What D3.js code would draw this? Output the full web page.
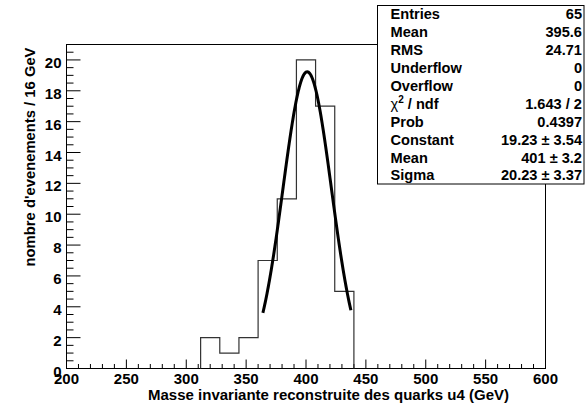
<!DOCTYPE html>
<html><head><meta charset="utf-8">
<script src="https://cdn.jsdelivr.net/npm/d3@7"></script>
<style>body{margin:0;background:#fff}svg{display:block}text{font-family:"Liberation Sans",Arial,sans-serif;font-weight:bold;fill:#000}</style>
</head><body>
<script>
const binEdges = [312, 328, 344, 360, 376, 392, 408, 424, 440];
const binCounts = [2, 1, 2, 7, 11, 20, 17, 5];
const fitParams = {constant: 19.23, mean: 401, sigma: 20.23};
const fitRange = [364, 437.5];
const xTicks = [200, 250, 300, 350, 400, 450, 500, 550, 600];
const yTicks = [0, 2, 4, 6, 8, 10, 12, 14, 16, 18, 20];
const statLabels = ["Entries","Mean","RMS","Underflow","Overflow","χ2 / ndf","Prob","Constant","Mean","Sigma"];
const statValues = ["65","395.6","24.71","0","0","1.643 / 2","0.4397","19.23 ± 3.54","401 ± 3.2","20.23 ± 3.37"];

const W=587,H=408;
const L=66.5,R=545.5,T=44.5,B=368.5;
const svg=d3.select("body").append("svg").attr("width",W).attr("height",H);
const x=d3.scaleLinear().domain([200,600]).range([L,R]);
const y=d3.scaleLinear().domain([0,21]).range([B,T]);

// frame
svg.append("rect").attr("x",L).attr("y",T).attr("width",R-L).attr("height",B-T).attr("fill","none").attr("stroke","#000").attr("stroke-width",1);

// x ticks
const xminor=d3.range(200,601,10);
svg.append("g").selectAll("line").data(xminor).join("line")
 .attr("x1",d=>x(d)).attr("x2",d=>x(d)).attr("y1",B).attr("y2",d=>B-(d%50===0?9:4.5))
 .attr("stroke","#000");
svg.append("g").selectAll("text").data(xTicks).join("text")
 .attr("x",d=>x(d)).attr("y",384).attr("text-anchor","middle").attr("font-size",15).text(d=>d);
// y ticks
const yminor=d3.range(0,21.01,0.5);
svg.append("g").selectAll("line").data(yminor).join("line")
 .attr("x1",L).attr("x2",d=>L+(d%2===0?14:7)).attr("y1",d=>y(d)).attr("y2",d=>y(d))
 .attr("stroke","#000");
svg.append("g").selectAll("text").data(yTicks).join("text")
 .attr("x",61.5).attr("y",d=>y(d)+8).attr("text-anchor","end").attr("font-size",15).text(d=>d);

// axis titles
svg.append("text").attr("x",509).attr("y",399.5).attr("text-anchor","end").attr("font-size",15)
 .text("Masse invariante reconstruite des quarks u4 (GeV)");
svg.append("text").attr("transform",`translate(34.5,47.5) rotate(-90)`).attr("text-anchor","end").attr("font-size",14.8)
 .text("nombre d'evenements / 16 GeV");

// histogram step
const pts=[[binEdges[0],0]];
binCounts.forEach((c,i)=>{pts.push([binEdges[i],c]);pts.push([binEdges[i+1],c]);});
pts.push([binEdges[binEdges.length-1],0]);
svg.append("path").attr("d",d3.line().x(d=>x(d[0])).y(d=>y(d[1]))(pts))
 .attr("fill","none").attr("stroke","#333").attr("stroke-width",1.2);

// fit
const g=v=>fitParams.constant*Math.exp(-0.5*((v-fitParams.mean)/fitParams.sigma)**2);
const fx=d3.range(fitRange[0],fitRange[1]+0.01,0.5);
svg.append("path").attr("d",d3.line().x(d=>x(d)).y(d=>y(g(d)))(fx))
 .attr("fill","none").attr("stroke","#000").attr("stroke-width",3);

// stats box
const bx=377.5,by=5.5,bw=206.5,bh=178.5;
svg.append("rect").attr("x",bx).attr("y",by).attr("width",bw).attr("height",bh).attr("fill","#fff").attr("stroke","#000").attr("stroke-width",1);
statLabels.forEach((lab,i)=>{
 const ty=19.3+17.9*i;
 const t=svg.append("text").attr("x",390.5).attr("y",ty).attr("font-size",14.6);
 if(lab.startsWith("χ2")){
   t.append("tspan").attr("font-weight","normal").text("χ");
   t.append("tspan").attr("font-size",10).attr("dy",-6).text("2");
   t.append("tspan").attr("dy",6).text(" / ndf");
 } else t.text(lab);
 svg.append("text").attr("x",582).attr("y",ty).attr("text-anchor","end").attr("font-size",14.6).text(statValues[i]);
});
</script>
</body></html>
